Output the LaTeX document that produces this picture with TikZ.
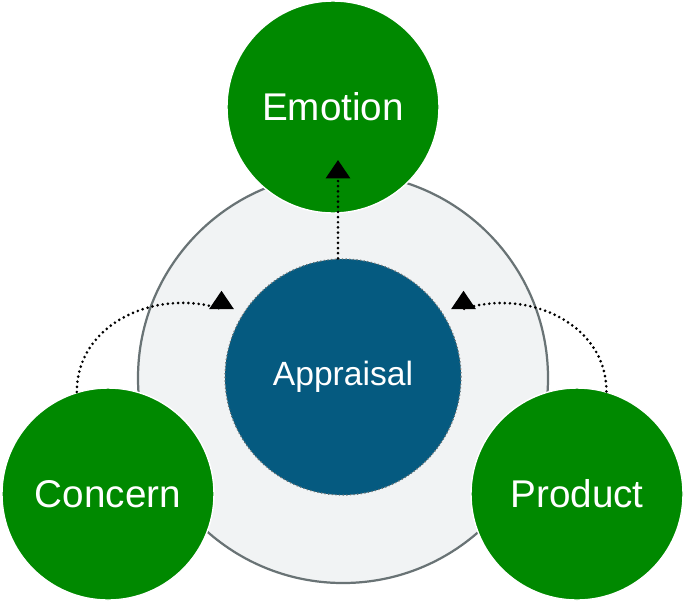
\documentclass[tikz,border=0pt]{standalone}
\usepackage{fontspec}
\setmainfont{Liberation Sans}
\usepackage{tikz}
\usetikzlibrary{arrows.meta, positioning}
\definecolor{mygreen}{RGB}{0,137,0}
\definecolor{myblue}{RGB}{5,90,128}
\definecolor{myring}{RGB}{105,115,117}
\definecolor{ringfill}{RGB}{241,243,244}
\tikzset{
  ringnode/.style={circle, draw=myring, fill=ringfill,
    minimum size=12.3cm, line width=1.9pt},
  greennode/.style={circle, draw=white, fill=mygreen,
    minimum size=6.36cm, inner sep=0pt, line width=1.2pt,
    text=white, font=\fontsize{33}{38}\selectfont},
  bluenode/.style={circle, draw=myring, fill=myblue, dotted,
    minimum size=7.08cm, inner sep=0pt, line width=1.1pt,
    text=white, font=\fontsize{28.7}{33}\selectfont},
  dotarrow/.style={-{Triangle[width=0.72cm, length=0.55cm]},
    line width=2.5pt, line cap=round,
    dash pattern=on 0pt off 4.4pt, color=black}
}
\begin{document}
\begin{tikzpicture}[x=0.03cm, y=-0.03cm]
  \useasboundingbox (0,0) rectangle (685,603);

  % Outer ring
  \node[ringnode] (ring) at (343, 378) {};

  % Centre
  \node[bluenode] (appraisal) at (343, 377) {Appraisal};

  % Outer nodes
  \node[greennode] (emotion) at (333, 107) {Emotion};
  \node[greennode] (concern) at (108, 494) {Concern};
  \node[greennode] (product) at (577, 494) {Product};

  % Arrow tips
  \coordinate (emo_tip) at (338, 160);
  \coordinate (left_base) at (221.5, 309);
  \coordinate (right_base) at (463.5, 309);

  % Connections
  \draw[dotarrow] (appraisal.north -| emo_tip) -- (emo_tip);
  \draw[dotarrow] (concern.107) to[out=90, in=162, looseness=1.05] (left_base) -- ++(0, -18.3);
  \draw[dotarrow] (product.74) to[out=90, in=18, looseness=1.05] (right_base) -- ++(0, -18.3);
\end{tikzpicture}
\end{document}
